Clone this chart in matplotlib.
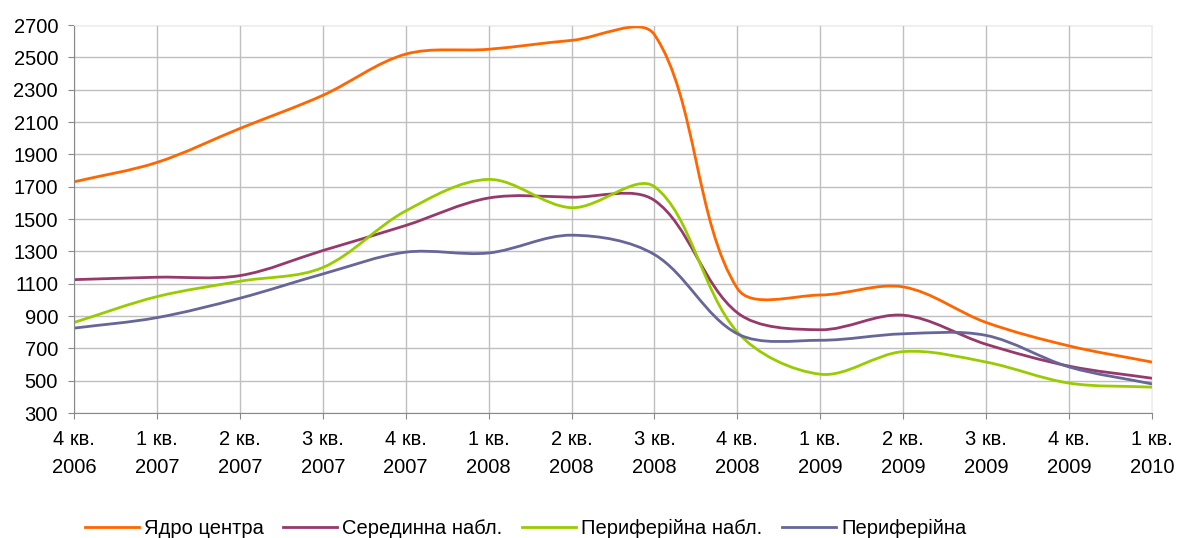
import matplotlib
matplotlib.use("Agg")
import matplotlib.pyplot as plt
from matplotlib.path import Path
from matplotlib.patches import PathPatch
from matplotlib.lines import Line2D
import numpy as np

quarters = ["4 кв.\n2006", "1 кв.\n2007", "2 кв.\n2007", "3 кв.\n2007", "4 кв.\n2007",
            "1 кв.\n2008", "2 кв.\n2008", "3 кв.\n2008", "4 кв.\n2008", "1 кв.\n2009",
            "2 кв.\n2009", "3 кв.\n2009", "4 кв.\n2009", "1 кв.\n2010"]

core = [1730, 1850, 2060, 2265, 2520, 2550, 2605, 2640, 1070, 1030, 1080, 860, 715, 615]
middle = [1125, 1140, 1150, 1305, 1460, 1630, 1635, 1615, 920, 815, 905, 725, 590, 515]
periph_near = [860, 1020, 1115, 1200, 1550, 1745, 1570, 1700, 800, 540, 680, 615, 485, 460]
periph = [825, 890, 1010, 1160, 1295, 1290, 1400, 1280, 790, 750, 790, 780, 585, 480]

names = ["Ядро центра", "Серединна набл.", "Периферійна набл.", "Периферійна"]
colors = ["#FF6600", "#953A6A", "#99CC00", "#666699"]

yticks = list(range(300, 2701, 200))
FONT = ["Liberation Sans", "DejaVu Sans"]


def smooth_path(ax, xs, ys):
    # Excel-like smoothing: Bezier controls scaled by neighbouring segment lengths (screen space)
    pts = ax.transData.transform(np.column_stack([xs, ys]))
    n = len(pts)
    verts = [pts[0]]
    codes = [Path.MOVETO]
    for i in range(n - 1):
        p0 = pts[max(i - 1, 0)]
        p1 = pts[i]
        p2 = pts[i + 1]
        p3 = pts[min(i + 2, n - 1)]
        d01 = np.hypot(*(p1 - p0))
        d12 = np.hypot(*(p2 - p1))
        d23 = np.hypot(*(p3 - p2))
        t1 = (p2 - p0) * (d12 / (d01 + d12)) / 3 if d01 > 0 else (p2 - p1) / 3
        t2 = (p3 - p1) * (d12 / (d12 + d23)) / 3 if d23 > 0 else (p2 - p1) / 3
        verts += [p1 + t1, p2 - t2, p2]
        codes += [Path.CURVE4] * 3
    verts = ax.transData.inverted().transform(np.array(verts))
    return Path(verts, codes)


fig = plt.figure(figsize=(11.78, 5.38), dpi=100)
ax = fig.add_axes([0.0628, 0.2323, 0.9152, 0.7212])

x = list(range(len(quarters)))
ax.set_xlim(0, len(quarters) - 1)
ax.set_ylim(300, 2700)

for vals, col in zip([core, middle, periph_near, periph], colors):
    ax.add_patch(PathPatch(smooth_path(ax, x, vals), facecolor="none", edgecolor=col,
                           lw=2.0, capstyle="round", joinstyle="round"))

ax.set_yticks(yticks)
ax.set_xticks(x)
ax.set_xticklabels(quarters, fontsize=14.5, family=FONT, linespacing=1.6)
ax.set_yticklabels([str(v) for v in yticks], fontsize=14.5, family=FONT)
ax.grid(True, color="#BFBFBF", lw=1.0)
ax.set_axisbelow(True)
ax.tick_params(axis="x", length=4.5, color="#888888", pad=8)
ax.tick_params(axis="y", length=4.5, color="#888888", pad=7)
for s in ["top", "right"]:
    ax.spines[s].set_color("#EEEEEE")
for s in ["left", "bottom"]:
    ax.spines[s].set_color("#888888")

handles = [Line2D([], [], color=c, lw=2.0) for c in colors]
fig.legend(handles, names, loc="center", bbox_to_anchor=(0.446, 0.018), ncol=4, frameon=False,
           prop={"family": FONT, "size": 14.5},
           handlelength=2.7, handletextpad=0.25, columnspacing=0.95)

fig.savefig("out.png", dpi=100)
